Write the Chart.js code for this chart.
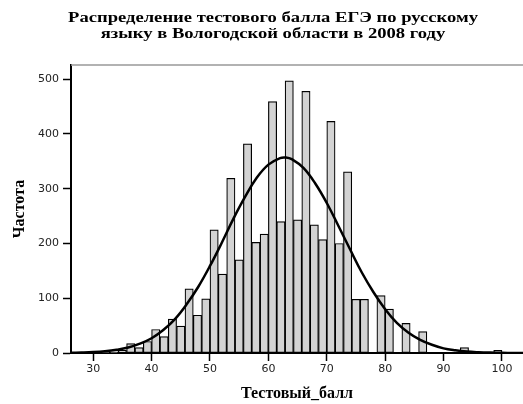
<!DOCTYPE html>
<html lang="ru">
<head>
<meta charset="utf-8">
<script src="https://cdn.jsdelivr.net/npm/chart.js@4.4.1/dist/chart.umd.min.js"></script>
<style>
  html, body { margin: 0; padding: 0; background: #fff; }
  #wrap { position: relative; width: 523px; height: 404px; }
  #title {
    position: absolute; left: 0; top: 9px; width: 546px;
    text-align: center; color: #000;
    font: bold 15px "Liberation Serif", serif; line-height: 16px;
    transform: scaleX(1.24); transform-origin: 273px 0;
  }
  canvas { position: absolute; left: 0; top: 0; }
</style>
</head>
<body>
<div id="wrap">
  <canvas id="chart" width="523" height="404"></canvas>
  <div id="title">Распределение тестового балла ЕГЭ по русскому<br>языку в Вологодской области в 2008 году</div>
</div>
<script>
// Histogram bins (centres of bins 10/7 wide, from 30 to 100)
const binCenters = [30.71, 32.14, 33.57, 35.00, 36.43, 37.86, 39.29, 40.71, 42.14, 43.57,
  45.00, 46.43, 47.86, 49.29, 50.71, 52.14, 53.57, 55.00, 56.43, 57.86,
  59.29, 60.71, 62.14, 63.57, 65.00, 66.43, 67.86, 69.29, 70.71, 72.14,
  73.57, 75.00, 76.43, 77.86, 79.29, 80.71, 82.14, 83.57, 85.00, 86.43,
  87.86, 89.29, 90.71, 92.14, 93.57, 95.00, 96.43, 97.86, 99.29];
const counts = [0, 1, 2, 5, 17, 10, 21, 43, 30, 62,
  49, 117, 69, 99, 225, 144, 319, 170, 382, 202,
  217, 459, 240, 497, 243, 478, 234, 207, 423, 200,
  331, 98, 98, 0, 105, 80, 0, 54, 0, 39,
  0, 0, 0, 0, 10, 0, 0, 0, 5];

// Normal curve
const curveX = [26, 28, 30, 32, 34, 36, 38, 40, 42, 44, 46, 48, 50, 52, 54, 56, 58, 60, 62, 63,
  64, 66, 68, 70, 72, 74, 76, 78, 80, 82, 84, 86, 88, 90, 92, 94, 96, 98, 100, 102, 104];
const curveY = [0.4, 0.9, 1.7, 3.2, 5.8, 10, 17, 27, 42, 62, 89, 121, 159, 201, 245, 285, 320, 344, 356, 357,
  354, 338, 310, 274, 232, 189, 147, 111, 80, 55, 37, 24, 15, 8.5, 4.9, 2.6, 1.4, 0.7, 0.3, 0.15, 0.1];

const xTicks = [30, 40, 50, 60, 70, 80, 90, 100];
const yTicks = [0, 100, 200, 300, 400, 500];

const tickFont = { family: 'DejaVu Sans', size: 11 };
const axisTitleFont = { family: 'Liberation Serif', size: 16, weight: 'bold' };

// thin gray frame line along the top of the plot
const topFrame = {
  id: 'topFrame',
  afterDraw(chart) {
    const { ctx, chartArea } = chart;
    ctx.save();
    ctx.strokeStyle = '#999';
    ctx.lineWidth = 1.5;
    ctx.beginPath();
    ctx.moveTo(chartArea.left, chartArea.top);
    ctx.lineTo(chartArea.right, chartArea.top);
    ctx.stroke();
    ctx.restore();
  }
};

new Chart(document.getElementById('chart'), {
  type: 'bar',
  data: {
    datasets: [
      {
        type: 'line',
        data: curveX.map((x, i) => ({ x, y: curveY[i] })),
        borderColor: '#000',
        borderWidth: 2.5,
        pointRadius: 0,
        tension: 0.4,
        fill: false,
        order: 0
      },
      {
        type: 'bar',
        data: binCenters.map((x, i) => ({ x, y: counts[i] })),
        backgroundColor: '#d3d3d3',
        borderColor: '#000',
        borderWidth: 1.2,
        borderSkipped: false,
        barPercentage: 1,
        categoryPercentage: 1,
        order: 1
      }
    ]
  },
  options: {
    responsive: false,
    animation: false,
    layout: { padding: { top: 65, left: 0, right: 0, bottom: 0 } },
    plugins: {
      legend: { display: false },
      tooltip: { enabled: false }
    },
    scales: {
      x: {
        type: 'linear',
        offset: false,
        min: 26.2,
        max: 103.6,
        afterBuildTicks: scale => { scale.ticks = xTicks.map(v => ({ value: v })); },
        afterFit: scale => { scale.height = 51; },
        ticks: { font: tickFont, color: '#222', padding: 2, maxRotation: 0 },
        grid: { offset: false, drawOnChartArea: false, tickLength: 8, tickColor: '#000', tickWidth: 1.5 },
        border: { color: '#000', width: 2 },
        title: { display: true, text: 'Тестовый_балл', font: axisTitleFont, color: '#000', padding: { top: 0, bottom: 1 } }
      },
      y: {
        min: 0,
        max: 526,
        afterBuildTicks: scale => { scale.ticks = yTicks.map(v => ({ value: v })); },
        afterFit: scale => { scale.width = 71; },
        ticks: { font: tickFont, color: '#222', padding: 4 },
        grid: { drawOnChartArea: false, tickLength: 8, tickColor: '#000', tickWidth: 1.5 },
        border: { color: '#000', width: 2 },
        title: { display: true, text: 'Частота', font: axisTitleFont, color: '#000', padding: { top: 10, bottom: 0 } }
      }
    }
  },
  plugins: [topFrame]
});
</script>
</body>
</html>
